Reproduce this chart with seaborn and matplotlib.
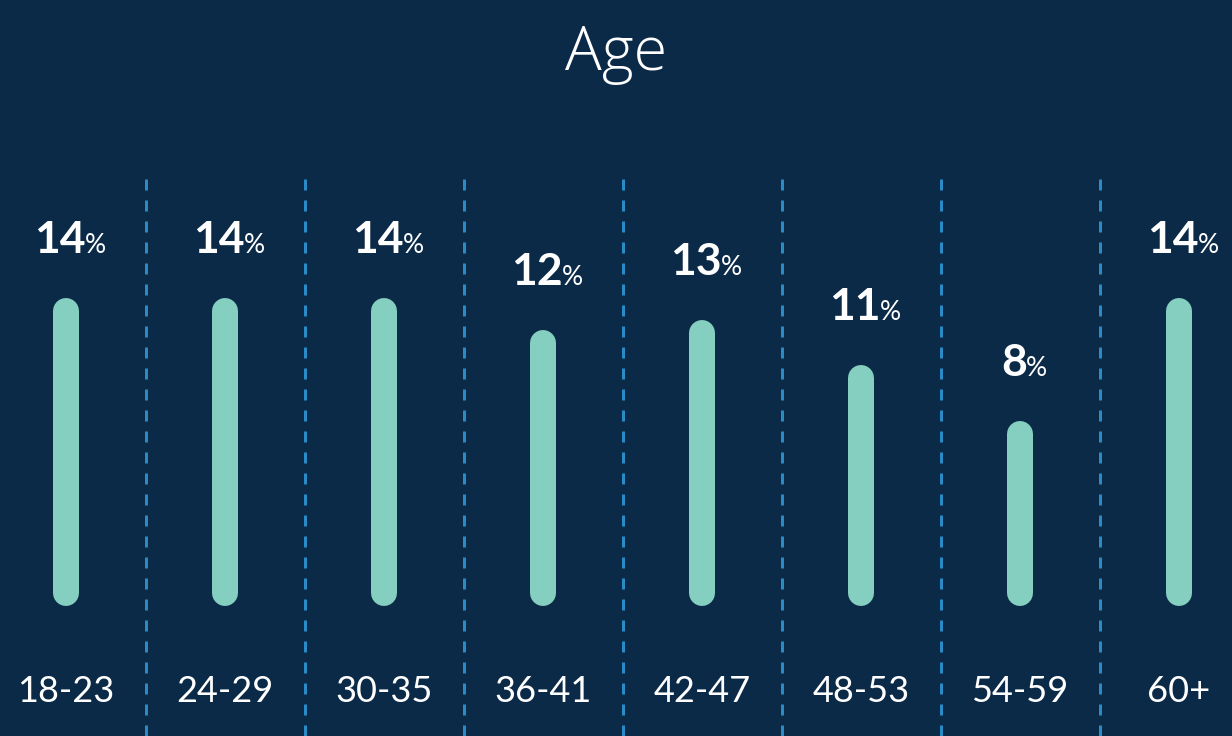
import matplotlib
matplotlib.use("Agg")
import matplotlib.pyplot as plt
import seaborn as sns

# data
age_groups = ["18-23", "24-29", "30-35", "36-41", "42-47", "48-53", "54-59", "60+"]
share_pct = [14.0, 14.0, 14.0, 12.4, 12.9, 10.7, 7.9, 14.0]
share_labels = [14, 14, 14, 12, 13, 11, 8, 14]

BG = "#0b2a47"
BAR = "#85cfc0"
DASH = "#2a8bc6"
DPI = 100

sns.set_theme(style="white")
plt.rcParams["font.family"] = ["Lato", "DejaVu Sans"]

fig = plt.figure(figsize=(12.32, 7.36), dpi=DPI, facecolor=BG)
ax = fig.add_axes([0, 0, 1, 1])
ax.set_facecolor(BG)

# thin bars with a thick round-joined edge -> pill shaped bars
sns.barplot(x=age_groups, y=share_pct, color=BAR, width=0.002,
            linewidth=26 * 72 / DPI, edgecolor=BAR, ax=ax)
for p in ax.patches:
    p.set_joinstyle("round")
    p.set_capstyle("round")

# px scale: 20.14 px per percent, zero at y=593px, category 0 at x=66, step 159
x0, step = 66, 159
ax.set_xlim(-x0 / step, (1232 - x0) / step)
ax.set_ylim(-(736 - 593) / 20.14, 593 / 20.14)

# dashed separators
seps = [i + 0.5 for i in range(len(age_groups) - 1)]
ax.vlines(seps, ax.get_ylim()[0], (593 - 176) / 20.14, colors=DASH,
          linewidth=3 * 72 / DPI, linestyles=(0, (11 / 3, 10 / 3)))

# value labels: bold number + small %
nums, pcts = [], []
for i, (v, lab) in enumerate(zip(share_pct, share_labels)):
    n = ax.annotate(str(lab), xy=(i, v), xytext=(0, 58 * 72 / DPI),
                    textcoords="offset points", ha="right", va="baseline",
                    fontsize=32, fontweight="bold", color="white")
    p = ax.annotate("%", xy=(i, v), xytext=(0, 58 * 72 / DPI),
                    textcoords="offset points", ha="left", va="baseline",
                    fontsize=19, color="white")
    nums.append(n)
    pcts.append(p)

fig.canvas.draw()
r = fig.canvas.get_renderer()
for i, (n, p) in enumerate(zip(nums, pcts)):
    wn = n.get_window_extent(r).width
    wp = p.get_window_extent(r).width
    gap = -1
    off = (wn - wp - gap) / 2 + 4
    n.set_position((off * 72 / DPI, 58 * 72 / DPI))
    p.set_position(((off + gap) * 72 / DPI, 58 * 72 / DPI))

# category labels along the bottom
for i, g in enumerate(age_groups):
    ax.text(i, 0.06, g, transform=ax.get_xaxis_transform(), ha="center",
            va="center", fontsize=26, color="white")

fig.text(0.5, 1 - 70 / 736, "Age", ha="center", va="baseline",
         fontsize=44, fontweight="light", family=["Open Sans", "DejaVu Sans"],
         color="white")

ax.set_xticks([])
ax.set_yticks([])
ax.set_xlabel("")
ax.set_ylabel("")
sns.despine(ax=ax, left=True, bottom=True)

fig.savefig("out.png", dpi=DPI, facecolor=BG)
